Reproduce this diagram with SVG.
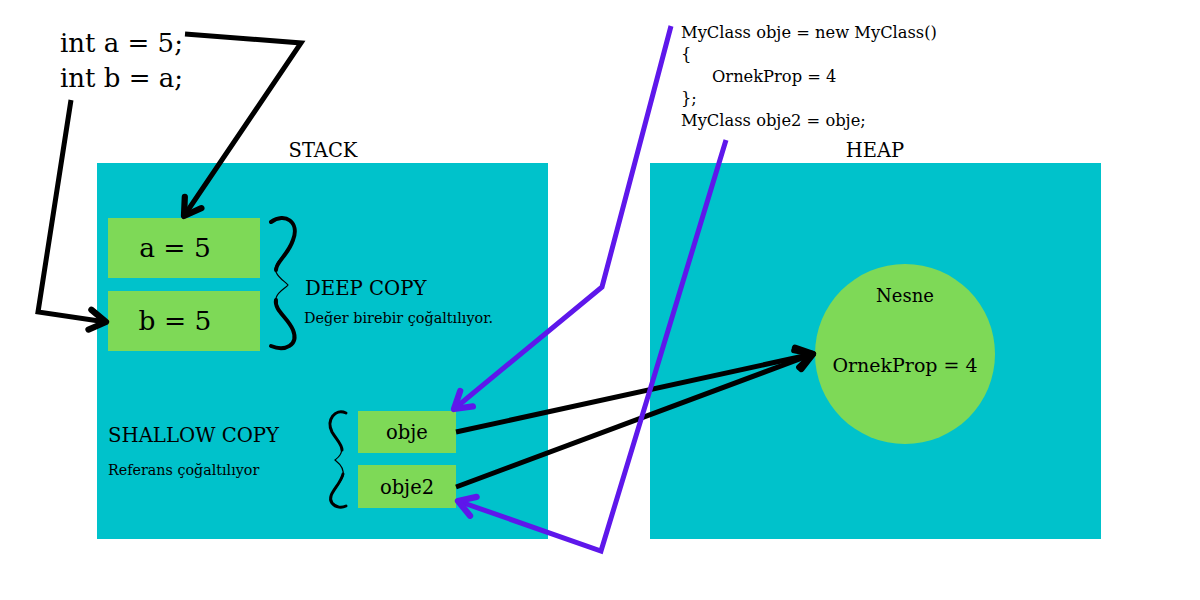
<svg xmlns="http://www.w3.org/2000/svg" width="1200" height="600" viewBox="0 0 1200 600">
<style>
  text { font-family: "DejaVu Serif", "Liberation Serif", serif; fill: #000; }
  .area { fill: #00C2CB; }
  .box { fill: #7ED957; }
  .blk { fill: none; stroke: #000; stroke-width: 5; stroke-linejoin: miter; }
  .pur { fill: none; stroke: #5E17EB; stroke-width: 5; stroke-linejoin: miter; }
  .c { text-anchor: middle; }
</style>
<defs>
  <marker id="ab" markerUnits="userSpaceOnUse" markerWidth="30" markerHeight="30" refX="0" refY="0" viewBox="-16 -12 20 24" orient="auto" overflow="visible">
    <path d="M-13,-8 L0,0 L-13,8" fill="none" stroke="#000" stroke-width="5" stroke-linecap="round" stroke-linejoin="round"/>
  </marker>
  <marker id="ap" markerUnits="userSpaceOnUse" markerWidth="30" markerHeight="30" refX="0" refY="0" viewBox="-16 -12 20 24" orient="auto" overflow="visible">
    <path d="M-13,-8 L0,0 L-13,8" fill="none" stroke="#5E17EB" stroke-width="5" stroke-linecap="round" stroke-linejoin="round"/>
  </marker>
</defs>
<rect width="1200" height="600" fill="#fff"/>

<g id="code-int">
  <text x="60" y="52" font-size="26">int a = 5;</text>
  <text x="60" y="87" font-size="26">int b = a;</text>
</g>
<g id="code-class" font-size="16.3">
  <text x="681" y="38">MyClass obje = new MyClass()</text>
  <text x="681" y="60">{</text>
  <text x="712" y="82">OrnekProp = 4</text>
  <text x="681" y="104">};</text>
  <text x="681" y="126">MyClass obje2 = obje;</text>
</g>

<g id="stack">
  <rect class="area" x="97" y="163" width="451" height="376"/>
  <text x="323" y="157" font-size="19.5" class="c">STACK</text>
</g>
<g id="heap">
  <rect class="area" x="650" y="163" width="451" height="376"/>
  <text x="875" y="157" font-size="19.5" class="c">HEAP</text>
</g>

<g id="node-a">
  <rect class="box" x="108" y="218" width="152" height="60"/>
  <text x="175" y="257" font-size="26.5" class="c">a = 5</text>
</g>
<g id="node-b">
  <rect class="box" x="108" y="291" width="152" height="60"/>
  <text x="175" y="330" font-size="26.5" class="c">b = 5</text>
</g>
<g id="deep-copy">
  <path d="M271,222 C285,212 300,222 293,240 C288,255 272,262 276,272 C279,279 286,282 288,285 C286,288 278,291 276,298 C272,308 288,318 293,330 C299,345 285,352 271,346" fill="none" stroke="#000" stroke-width="1.2"/>
  <path d="M271,222 C285,212 300,222 293,240 C288,255 276,262 276,270" fill="none" stroke="#000" stroke-width="4" stroke-linecap="round"/>
  <path d="M276,300 C274,310 288,318 293,330 C299,345 285,352 271,346" fill="none" stroke="#000" stroke-width="4" stroke-linecap="round"/>
  <text x="305" y="295" font-size="19.7">DEEP COPY</text>
  <text x="304" y="323" font-size="14.4">Değer birebir çoğaltılıyor.</text>
</g>

<g id="shallow-copy">
  <path d="M346,413 C335,408 326,420 332,432 C337,440 345,448 340,455 C338,458 336,459 335,460 C337,462 345,466 343,476 C340,486 326,495 332,503 C336,508 342,508 346,506" fill="none" stroke="#000" stroke-width="1.2"/>
  <path d="M346,413 C335,408 326,420 332,432 C336,439 342,444 342,450" fill="none" stroke="#000" stroke-width="3" stroke-linecap="round"/>
  <path d="M343,474 C340,486 326,495 332,503 C336,508 342,508 346,506" fill="none" stroke="#000" stroke-width="3" stroke-linecap="round"/>
  <text x="108" y="442" font-size="19.7">SHALLOW COPY</text>
  <text x="108" y="475" font-size="14.3">Referans çoğaltılıyor</text>
</g>
<g id="node-obje">
  <rect class="box" x="358" y="411" width="98" height="42"/>
  <text x="407" y="439" font-size="19.5" class="c">obje</text>
</g>
<g id="node-obje2">
  <rect class="box" x="358" y="465" width="98" height="43"/>
  <text x="407" y="494" font-size="19.5" class="c">obje2</text>
</g>

<g id="node-nesne">
  <circle cx="905" cy="354" r="90" fill="#7ED957"/>
  <text x="905" y="302" font-size="18" class="c">Nesne</text>
  <text x="905" y="372" font-size="19" class="c">OrnekProp = 4</text>
</g>

<g id="connectors">
  <polyline class="blk" points="185,34 301,43 184,216" marker-end="url(#ab)"/>
  <polyline class="blk" points="71,100 38,312 106,322" marker-end="url(#ab)"/>
  <line class="blk" x1="456" y1="432" x2="813" y2="354" marker-end="url(#ab)"/>
  <line class="blk" x1="456" y1="487" x2="813" y2="354" marker-end="url(#ab)"/>
  <polyline class="pur" points="671,26 602,287 454,409" marker-end="url(#ap)"/>
  <polyline class="pur" points="726,140 601,551 458,501" marker-end="url(#ap)"/>
</g>
</svg>
